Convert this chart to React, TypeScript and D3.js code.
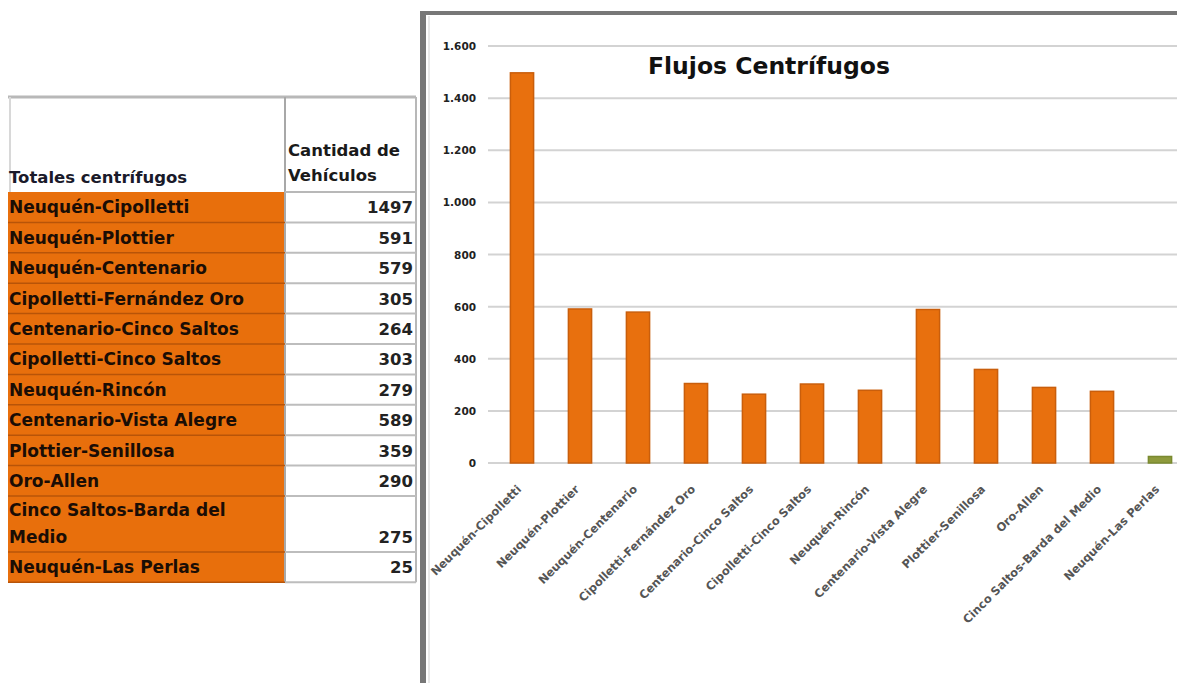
import React from "react";
import * as d3 from "d3";

const categories = [
  "Neuquén-Cipolletti",
  "Neuquén-Plottier",
  "Neuquén-Centenario",
  "Cipolletti-Fernández Oro",
  "Centenario-Cinco Saltos",
  "Cipolletti-Cinco Saltos",
  "Neuquén-Rincón",
  "Centenario-Vista Alegre",
  "Plottier-Senillosa",
  "Oro-Allen",
  "Cinco Saltos-Barda del Medio",
  "Neuquén-Las Perlas",
];
const values = [1497, 591, 579, 305, 264, 303, 279, 589, 359, 290, 275, 25];
const yTicks = [0, 200, 400, 600, 800, 1000, 1200, 1400, 1600];
const title = "Flujos Centrífugos";
const tableHeaderLeft = "Totales centrífugos";
const tableHeaderRight = ["Cantidad de", "Vehículos"];

const W = 1177;
const H = 683;
const FONT = "'DejaVu Sans', sans-serif";
const ORANGE = "#E86F0C";

function splitLabel(s: string): string[] {
  if (s.length <= 25) return [s];
  const i = s.lastIndexOf(" ");
  return [s.slice(0, i), s.slice(i + 1)];
}

export default function App() {
  const y = d3.scaleLinear().domain([0, 1600]).range([463, 46]);
  const x = d3.scaleBand<string>().domain(categories).range([493, 1189]).paddingInner(0.6).paddingOuter(0.3);
  const fmt = d3.formatLocale({ decimal: ",", thousands: ".", grouping: [3], currency: ["$", ""] }).format(",d");

  // table layout
  const tLeft = 8, tMid = 285, tRight = 416, tTop = 97, headerBottom = 192, rowH = 30.4;
  const lines = categories.map(splitLabel);
  const rowTops: number[] = [];
  let cur = headerBottom;
  lines.forEach((l) => {
    rowTops.push(cur);
    cur += rowH * l.length * (l.length > 1 ? 0.92 : 1);
  });
  const tBottom = cur;

  return (
    <svg width={W} height={H} style={{ position: "absolute", left: 0, top: 0, background: "#fff" }} fontFamily={FONT}>
      {/* ---------- Table ---------- */}
      <rect x={tLeft} y={headerBottom} width={tMid - tLeft} height={tBottom - headerBottom} fill={ORANGE} />
      <line x1={tLeft} x2={tRight} y1={tTop} y2={tTop} stroke="#b8b8b8" strokeWidth={3} />
      <line x1={tLeft + 2} x2={tLeft + 2} y1={tTop} y2={headerBottom} stroke="#d8d8d8" strokeWidth={2} />
      <line x1={tMid} x2={tMid} y1={tTop} y2={tBottom} stroke="#a8a8a8" strokeWidth={2} />
      <line x1={tRight} x2={tRight} y1={tTop} y2={tBottom} stroke="#b8b8b8" strokeWidth={2} />
      <line x1={tMid} x2={tRight} y1={headerBottom} y2={headerBottom} stroke="#b8b8b8" strokeWidth={2} />
      <text x={tLeft + 1} y={headerBottom - 9} fontSize={16.5} fontWeight={700} fill="#1a1a2a">{tableHeaderLeft}</text>
      {tableHeaderRight.map((t, i) => (
        <text key={t} x={tMid + 3} y={156 + i * 25} fontSize={16.5} fontWeight={700} fill="#1a1a1a">{t}</text>
      ))}
      {lines.map((l, i) => {
        const bottom = i + 1 < rowTops.length ? rowTops[i + 1] : tBottom;
        return (
          <g key={categories[i]}>
            <line x1={tLeft} x2={tMid} y1={bottom} y2={bottom} stroke="#b85408" strokeWidth={1.5} />
            <line x1={tMid} x2={tRight} y1={bottom} y2={bottom} stroke="#bdbdbd" strokeWidth={2} />
            {l.map((s, j) => (
              <text key={j} x={tLeft + 1} y={bottom - 9 - (l.length - 1 - j) * 27} fontSize={17} fontWeight={700} fill="#1a0d05">{s}</text>
            ))}
            <text x={tRight - 3} y={bottom - 9} fontSize={16.5} fontWeight={700} textAnchor="end" fill="#222">{values[i]}</text>
          </g>
        );
      })}

      {/* ---------- Chart ---------- */}
      <rect x={424} y={14} width={W - 424} height={H - 14} fill="#fff" />
      <line x1={420} x2={W} y1={13} y2={13} stroke="#777" strokeWidth={4} />
      <line x1={423} x2={423} y1={11} y2={H} stroke="#777" strokeWidth={6} />
      <line x1={429} x2={429} y1={16} y2={H} stroke="#e2e2e2" strokeWidth={1.5} />

      {yTicks.map((t) => (
        <g key={t}>
          <line x1={488} x2={W} y1={y(t)} y2={y(t)} stroke="#d3d3d3" strokeWidth={2} />
          <text x={476} y={y(t) + 4} fontSize={10.5} fontWeight={700} textAnchor="end" fill="#222">{fmt(t)}</text>
        </g>
      ))}

      {categories.map((c, i) => (
        <rect
          key={c}
          x={x(c)}
          y={y(values[i])}
          width={x.bandwidth()}
          height={y(0) - y(values[i])}
          fill={i === categories.length - 1 ? "#8e9a3c" : "#E8700E"}
          stroke={i === categories.length - 1 ? "#7a8a30" : "#C95E0C"}
          strokeWidth={1.5}
        />
      ))}

      {categories.map((c) => {
        const cx = (x(c) as number) + x.bandwidth() / 2;
        return (
          <text key={c} transform={`translate(${cx},${490}) rotate(-45)`} textAnchor="end" fontSize={11.5} fontWeight={700} fill="#555">
            {c}
          </text>
        );
      })}

      <text x={648} y={74} fontSize={23.5} fontWeight={700} fill="#111">{title}</text>
    </svg>
  );
}
